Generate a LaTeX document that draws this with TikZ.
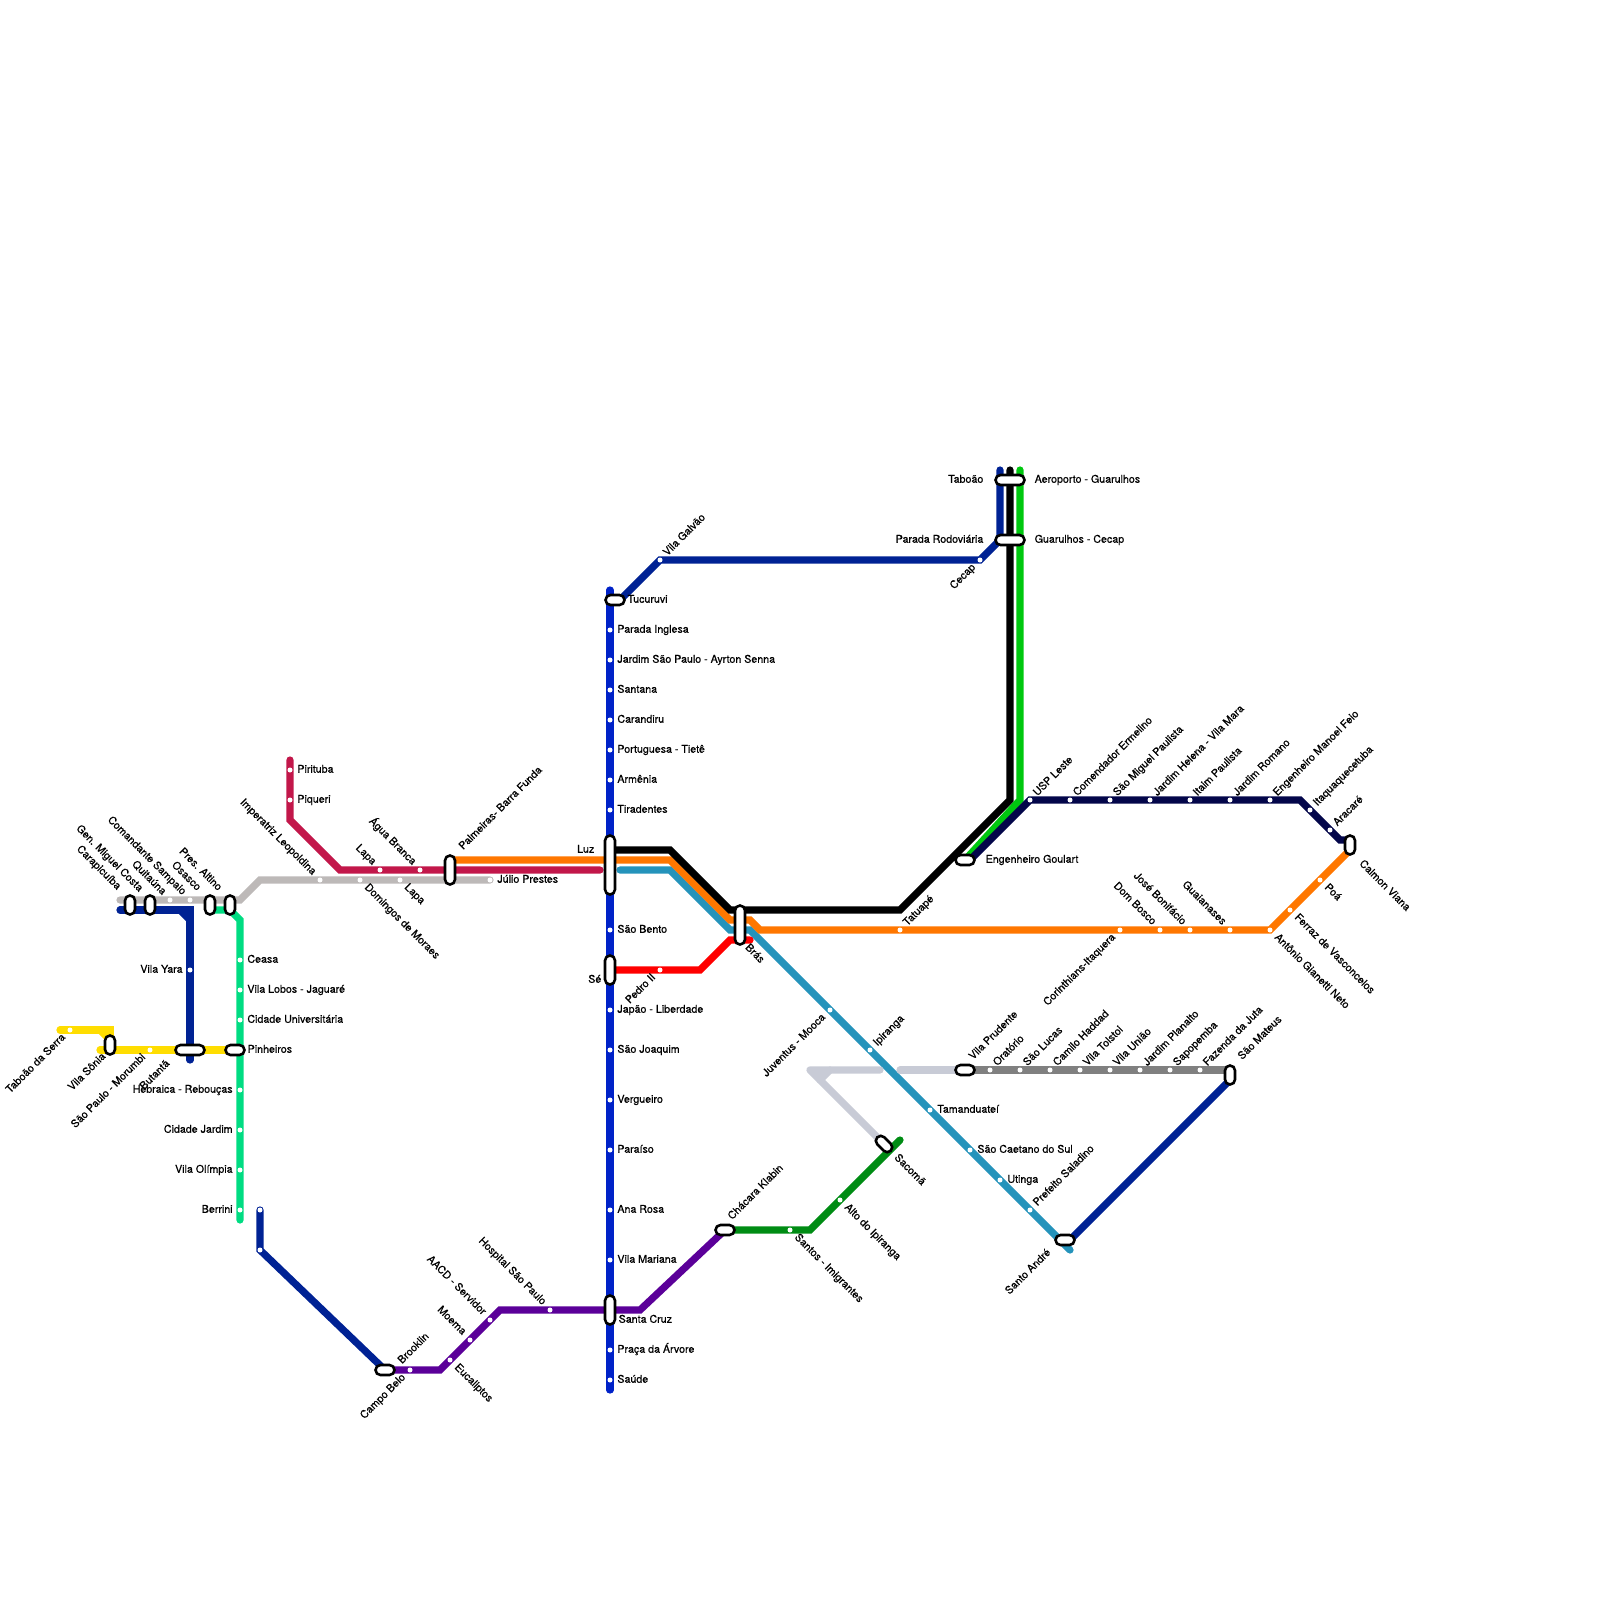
\documentclass[tikz,border=0pt]{standalone}
\usepackage{fontspec}
\usepackage{xcolor}
\usepackage{tikz}
\usetikzlibrary{backgrounds}
\setmainfont[FakeBold=0.6]{TeX Gyre Heros}
\definecolor{metro-yellow}{HTML}{FFDD00}
\definecolor{metro-gray}{HTML}{BDB9B8}
\definecolor{metro-navy}{HTML}{002294}
\definecolor{metro-teal}{HTML}{00DC82}
\definecolor{metro-wine}{HTML}{C2174A}
\definecolor{metro-orange}{HTML}{FF7700}
\definecolor{metro-blue}{HTML}{0022C8}
\definecolor{metro-cyan}{HTML}{2593BB}
\definecolor{metro-red}{HTML}{FF0000}
\definecolor{metro-purple}{HTML}{5B0099}
\definecolor{metro-green}{HTML}{008C14}
\definecolor{metro-lime}{HTML}{00C80F}
\definecolor{metro-night}{HTML}{03064A}
\definecolor{metro-silver}{HTML}{C8CBD6}
\definecolor{metro-steel}{HTML}{808080}

\begin{document}
\begin{tikzpicture}[
    x=0.01cm, y=-0.01cm,
    label distance=0.055cm,
    track/.style={line width=0.072cm, line cap=round},
    dot/.style={circle, fill=white, inner sep=0pt, minimum size=0.05cm},
    pill/.style={rectangle, draw=black, fill=white, line width=0.026cm, rounded corners=0.05cm, inner sep=0pt},
    vpill/.style={pill, minimum width=0.1cm, minimum height=#1},
    hpill/.style={pill, minimum height=0.1cm, minimum width=#1},
    lbl/.style={font=\fontsize{3.03}{3.6}\selectfont, text=black, inner sep=0pt, text height=0.075cm, text depth=0pt},
    txtE/.style={lbl, anchor=west},
    txtW/.style={lbl, anchor=east},
    txtNE/.style={lbl, anchor=west, rotate=45},
    txtNW/.style={lbl, anchor=east, rotate=-45},
    txtSE/.style={lbl, anchor=west, rotate=-45},
    txtSW/.style={lbl, anchor=east, rotate=45},
    lE/.style={label={[xshift=-0.02cm, yshift=0.01cm, txtE]0:#1}},
    lW/.style={label={[xshift=0.02cm, yshift=0.01cm, txtW]180:#1}},
    lNE/.style={label={[xshift=0.02cm, yshift=-0.02cm, txtNE]45:#1}},
    lNW/.style={label={[xshift=-0.025cm, yshift=-0.01cm, txtNW]135:#1}},
    lSE/.style={label={[xshift=0.04cm, yshift=0.03cm, txtSE]-45:#1}},
    lSW/.style={label={[xshift=-0.04cm, yshift=0.03cm, txtSW]-135:#1}}
]
\useasboundingbox (0,0) rectangle (1600,1600);

% Interchanges
\node[vpill=0.19cm] (carapicuiba) at (130,905) {};
\node[vpill=0.19cm] (miguel) at (150,905) {};
\node[vpill=0.19cm] (osasco) at (210,905) {};
\node[vpill=0.19cm] (altino) at (230,905) {};
\node[vpill=0.19cm] (sonia) at (110,1045) {};
\node[hpill=0.29cm] (butanta) at (190,1050) {};
\node[hpill=0.19cm] (pinheiros) at (235,1050) {};
\node[vpill=0.29cm] (barrafunda) at (450,870) {};
\node[vpill=0.59cm] (luz) at (610,865) {};
\node[vpill=0.29cm] (se) at (610,970) {};
\node[vpill=0.39cm] (bras) at (740,925) {};
\node[hpill=0.19cm] (tucuruvi) at (615,600) {};
\node[vpill=0.29cm] (santacruz) at (610,1310) {};
\node[hpill=0.19cm] (campobelo) at (385,1370) {};
\node[hpill=0.19cm] (klabin) at (725,1230) {};
\node[hpill=0.19cm, rotate=-45] (sacoma) at (884,1144) {};
\node[hpill=0.29cm] (taboao) at (1010,480) {};
\node[hpill=0.29cm] (cecapt) at (1010,540) {};
\node[hpill=0.19cm] (goulart) at (965,860) {};
\node[vpill=0.19cm] (calmon) at (1350,845) {};
\node[hpill=0.19cm] (prudente) at (965,1070) {};
\node[vpill=0.19cm] (mateus) at (1230,1075) {};
\node[hpill=0.19cm] (andre) at (1065,1240) {};

% Interchange names
\node[txtNW] (carapicuiba-t) at (120,888) {Carapicuíba};
\node[txtNW] (miguel-t) at (142,890) {Gen. Miguel Costa};
\node[txtNW] (osasco-t) at (200,889) {Osasco};
\node[txtNW] (altino-t) at (221,889) {Pres. Altino};
\node[txtSW] (sonia-t) at (104,1054) {Vila Sônia};
\node[txtSW] (butanta-t) at (168,1061) {Butantã};
\node[txtE] (pinheiros-t) at (247,1049) {Pinheiros};
\node[txtNE] (barrafunda-t) at (460,848) {Palmeiras- Barra Funda};
\node[txtW] (luz-t) at (595,849) {Luz};
\node[txtW] (se-t) at (602,979) {Sé};
\node[txtSE] (bras-t) at (747,945) {Brás};
\node[txtE] (tucuruvi-t) at (627,599) {Tucuruvi};
\node[txtE] (santacruz-t) at (618,1319) {Santa Cruz};
\node[txtNE] (brooklin-t) at (399,1362) {Brooklin};
\node[txtNE] (klabin-t) at (729,1218) {Chácara Klabin};
\node[txtSE] (sacoma-t) at (896,1155) {Sacomã};
\node[txtW] (taboao-t) at (984,479) {Taboão};
\node[txtE] (aeroporto-t) at (1034,479) {Aeroporto - Guarulhos};
\node[txtW] (rodoviaria-t) at (984,539) {Parada Rodoviária};
\node[txtE] (cecapt-t) at (1034,539) {Guarulhos - Cecap};
\node[txtE] (goulart-t) at (985,859) {Engenheiro Goulart};
\node[txtSE] (calmon-t) at (1361,861) {Calmon Viana};
\node[txtNE] (prudente-t) at (970,1058) {Vila Prudente};
\node[txtNE] (mateus-t) at (1239,1058) {São Mateus};
\node[txtSW] (andre-t) at (1049,1250) {Santo André};

% West lines
\node[dot, lNW={Quitaúna}] (quitauna) at (170,900) {};
\node[dot, lNW={Comandante Sampaio}] (sampaio) at (190,900) {};
\node[dot, lNW={Imperatriz Leopoldina}] (leopoldina) at (320,880) {};
\node[dot, lSE={Domingos de Moraes}] (moraes) at (360,880) {};
\node[dot, lSE={Lapa}] (lapa8) at (400,880) {};
\node[dot, lE={Júlio Prestes}] (prestes) at (490,880) {};
\node[dot, lE={Pirituba}] (pirituba) at (290,770) {};
\node[dot, lE={Piqueri}] (piqueri) at (290,800) {};
\node[dot, lNW={Lapa}] (lapa7) at (380,870) {};
\node[dot, lNW={Água Branca}] (agua) at (420,870) {};
\node[dot, lW={Vila Yara}] (yara) at (190,970) {};
\node[dot, lSW={Taboão da Serra}] (serra) at (70,1030) {};
\node[dot, lSW={São Paulo - Morumbi}] (morumbi) at (150,1050) {};

% Pinheiros river line
\node[dot, lE={Ceasa}] (ceasa) at (240,960) {};
\node[dot, lE={Vila Lobos - Jaguaré}] (lobos) at (240,990) {};
\node[dot, lE={Cidade Universitária}] (cidadeu) at (240,1020) {};
\node[dot, lW={Hebraica - Rebouças}] (hebraica) at (240,1090) {};
\node[dot, lW={Cidade Jardim}] (jardim) at (240,1130) {};
\node[dot, lW={Vila Olímpia}] (olimpia) at (240,1170) {};
\node[dot, lW={Berrini}] (berrini) at (240,1210) {};

% North-south line
\node[dot, lE={Parada Inglesa}] (inglesa) at (610,630) {};
\node[dot, lE={Jardim São Paulo - Ayrton Senna}] (senna) at (610,660) {};
\node[dot, lE={Santana}] (santana) at (610,690) {};
\node[dot, lE={Carandiru}] (carandiru) at (610,720) {};
\node[dot, lE={Portuguesa - Tietê}] (tiete) at (610,750) {};
\node[dot, lE={Armênia}] (armenia) at (610,780) {};
\node[dot, lE={Tiradentes}] (tiradentes) at (610,810) {};
\node[dot, lE={São Bento}] (bento) at (610,930) {};
\node[dot, lE={Japão - Liberdade}] (liberdade) at (610,1010) {};
\node[dot, lE={São Joaquim}] (joaquim) at (610,1050) {};
\node[dot, lE={Vergueiro}] (vergueiro) at (610,1100) {};
\node[dot, lE={Paraíso}] (paraiso) at (610,1150) {};
\node[dot, lE={Ana Rosa}] (anarosa) at (610,1210) {};
\node[dot, lE={Vila Mariana}] (mariana) at (610,1260) {};
\node[dot, lE={Praça da Árvore}] (arvore) at (610,1350) {};
\node[dot, lE={Saúde}] (saude) at (610,1380) {};

% South lines
\node[dot] (navy9a) at (260,1210) {};
\node[dot] (navy9b) at (260,1250) {};
\node[dot, lSW={Campo Belo}] (belo) at (410,1370) {};
\node[dot, lSE={Eucaliptos}] (eucaliptos) at (450,1360) {};
\node[dot, lNW={Moema}] (moema) at (470,1340) {};
\node[dot, lNW={AACD - Servidor}] (aacd) at (490,1320) {};
\node[dot, lNW={Hospital São Paulo}] (hospital) at (550,1310) {};
\node[dot, lSE={Santos - Imigrantes}] (santos) at (790,1230) {};
\node[dot, lSE={Alto do Ipiranga}] (alto) at (840,1200) {};
\node[dot, lSW={Pedro II}] (pedro) at (660,970) {};
\node[dot, lNE={Vila Galvão}] (galvao) at (660,560) {};
\node[dot, lSW={Cecap}] (cecap) at (980,560) {};

% Southeast line
\node[dot, lSW={Juventus - Mooca}] (mooca) at (830,1010) {};
\node[dot, lNE={Ipiranga}] (ipiranga) at (870,1050) {};
\node[dot, lE={Tamanduateí}] (tamanduatei) at (930,1110) {};
\node[dot, lE={São Caetano do Sul}] (caetano) at (970,1150) {};
\node[dot, lE={Utinga}] (utinga) at (1000,1180) {};
\node[dot, lNE={Prefeito Saladino}] (saladino) at (1030,1210) {};

% Monorail row
\node[dot, lNE={Oratório}] (oratorio) at (990,1070) {};
\node[dot, lNE={São Lucas}] (lucas) at (1020,1070) {};
\node[dot, lNE={Camilo Haddad}] (haddad) at (1050,1070) {};
\node[dot, lNE={Vila Tolstoi}] (tolstoi) at (1080,1070) {};
\node[dot, lNE={Vila União}] (uniao) at (1110,1070) {};
\node[dot, lNE={Jardim Planalto}] (planalto) at (1140,1070) {};
\node[dot, lNE={Sapopemba}] (sapopemba) at (1170,1070) {};
\node[dot, lNE={Fazenda da Juta}] (juta) at (1200,1070) {};

% East lines
\node[dot, lNE={USP Leste}] (usp) at (1030,800) {};
\node[dot, lNE={Comendador Ermelino}] (ermelino) at (1070,800) {};
\node[dot, lNE={São Miguel Paulista}] (miguelp) at (1110,800) {};
\node[dot, lNE={Jardim Helena - Vila Mara}] (helena) at (1150,800) {};
\node[dot, lNE={Itaim Paulista}] (itaim) at (1190,800) {};
\node[dot, lNE={Jardim Romano}] (romano) at (1230,800) {};
\node[dot, lNE={Engenheiro Manoel Feio}] (feio) at (1270,800) {};
\node[dot, lNE={Itaquaquecetuba}] (itaqua) at (1310,810) {};
\node[dot, lNE={Aracaré}] (aracare) at (1330,830) {};
\node[dot, lNE={Tatuapé}] (tatuape) at (900,930) {};
\node[dot, lSW={Corinthians-Itaquera}] (itaquera) at (1120,930) {};
\node[dot, lNW={Dom Bosco}] (bosco) at (1160,930) {};
\node[dot, lNW={José Bonifácio}] (bonifacio) at (1190,930) {};
\node[dot, lNW={Guaianases}] (guaianases) at (1230,930) {};
\node[dot, lSE={Antônio Gianetti Neto}] (gianetti) at (1270,930) {};
\node[dot, lSE={Ferraz de Vasconcelos}] (ferraz) at (1290,910) {};
\node[dot, lSE={Poá}] (poa) at (1320,880) {};

% Line ends and bends
\coordinate (gray0) at (120,900);
\coordinate (gray1) at (240,900);
\coordinate (gray2) at (260,880);
\coordinate (navy0) at (120,910);
\coordinate (navy1) at (180,910);
\coordinate (navy2) at (190,910);
\coordinate (navy3) at (190,920);
\coordinate (navy4) at (190,1060);
\coordinate (yel0) at (60,1030);
\coordinate (yel1) at (100,1030);
\coordinate (yel2) at (110,1030);
\coordinate (yel3) at (110,1040);
\coordinate (yel4) at (100,1050);
\coordinate (teal0) at (210,910);
\coordinate (teal1) at (230,910);
\coordinate (teal2) at (240,920);
\coordinate (teal3) at (240,1220);
\coordinate (wine0) at (290,760);
\coordinate (wine1) at (290,820);
\coordinate (wine2) at (340,870);
\coordinate (wine3) at (600,870);
\coordinate (blue0) at (610,590);
\coordinate (blue1) at (610,1390);
\coordinate (orn0) at (450,860);
\coordinate (orn1) at (670,860);
\coordinate (orn2) at (730,920);
\coordinate (orn3) at (750,920);
\coordinate (orn4) at (760,930);
\coordinate (orn5) at (1350,850);
\coordinate (blk0) at (610,850);
\coordinate (blk1) at (670,850);
\coordinate (blk2) at (730,910);
\coordinate (blk3) at (900,910);
\coordinate (blk4) at (1010,800);
\coordinate (blk5) at (1010,470);
\coordinate (lim0) at (1020,470);
\coordinate (lim1) at (1020,800);
\coordinate (cyn0) at (620,870);
\coordinate (cyn1) at (670,870);
\coordinate (cyn2) at (730,930);
\coordinate (cyn3) at (750,930);
\coordinate (cyn4) at (1070,1250);
\coordinate (red0) at (610,970);
\coordinate (red1) at (700,970);
\coordinate (red2) at (730,940);
\coordinate (red3) at (750,940);
\coordinate (pur1) at (440,1370);
\coordinate (pur2) at (500,1310);
\coordinate (pur3) at (640,1310);
\coordinate (grn1) at (810,1230);
\coordinate (grn2) at (900,1140);
\coordinate (sil0) at (880,1070);
\coordinate (sil1) at (810,1070);
\coordinate (sil2) at (830,1070);
\coordinate (sil3) at (820,1080);
\coordinate (sil4) at (900,1070);
\coordinate (top0) at (1000,470);
\coordinate (top1) at (1000,540);
\coordinate (top2) at (620,600);
\coordinate (ngt0) at (970,860);
\coordinate (ngt1) at (1300,800);
\coordinate (ngt2) at (1340,840);
\coordinate (ngt3) at (1350,840);
\coordinate (stl1) at (1230,1070);
\coordinate (nv21) at (1070,1240);
\coordinate (nv22) at (1230,1080);

% Lines
\begin{scope}[on background layer]
\draw[track, metro-gray] (gray0) -- (gray1) -- (gray2) -- (prestes.center);
\draw[track, metro-navy] (navy0) -- (navy2) -- (navy4);
\draw[track, metro-navy] (navy1) -- (navy3);
\draw[track, metro-yellow] (yel0) -- (yel2) -- (sonia.center);
\draw[track, metro-yellow] (yel1) -- (yel3);
\draw[track, metro-yellow] (yel4) -- (pinheiros.center);
\draw[track, metro-teal] (teal0) -- (teal1) -- (teal2) -- (teal3);
\draw[track, metro-wine] (wine0) -- (wine1) -- (wine2) -- (wine3);
\draw[track, metro-blue] (blue0) -- (blue1);
\draw[track, metro-cyan] (cyn0) -- (cyn1) -- (cyn2) -- (cyn3) -- (cyn4);
\draw[track, metro-orange] (orn0) -- (orn1) -- (orn2) -- (orn3) -- (orn4) -- (gianetti.center) -- (orn5);
\draw[track, black] (blk0) -- (blk1) -- (blk2) -- (blk3) -- (blk4) -- (blk5);
\draw[track, metro-lime] (lim0) -- (lim1) -- (goulart.center);
\draw[track, metro-night] (ngt0) -- (usp.center) -- (ngt1) -- (ngt2) -- (ngt3);
\draw[track, metro-red] (red0) -- (red1) -- (red2) -- (red3);
\draw[track, metro-purple] (campobelo.center) -- (pur1) -- (pur2) -- (pur3) -- (klabin.center);
\draw[track, metro-green] (klabin.center) -- (grn1) -- (grn2);
\draw[track, metro-navy] (navy9a.center) -- (navy9b.center) -- (campobelo.center);
\draw[track, metro-navy] (top2) -- (galvao.center) -- (cecap.center) -- (top1) -- (top0);
\fill[metro-silver] (sil1) -- (sil2) -- (sil3) -- cycle;
\draw[track, metro-silver, line join=round] (sil0) -- (sil1) -- (sacoma.center);
\draw[track, metro-silver] (sil2) -- (sil3);
\draw[track, metro-silver] (sil4) -- (prudente.center);
\draw[track, metro-steel] (prudente.center) -- (stl1);
\draw[track, metro-navy] (nv21) -- (nv22);
\end{scope}

\end{tikzpicture}
\end{document}
